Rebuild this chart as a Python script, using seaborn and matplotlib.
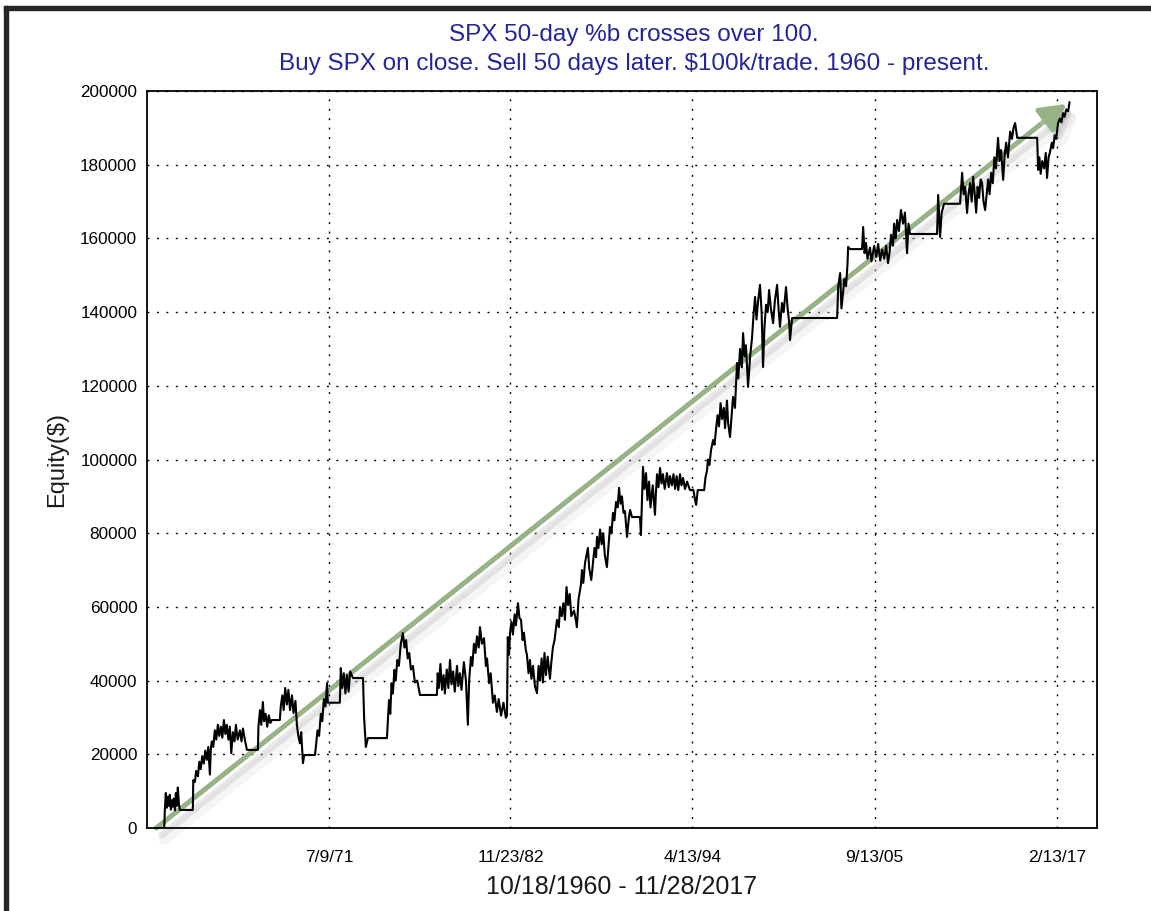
import matplotlib
matplotlib.use('Agg')
import matplotlib.pyplot as plt
import matplotlib.patheffects as pe
from matplotlib.ticker import MultipleLocator, FuncFormatter
from matplotlib.patches import Rectangle
import seaborn as sns
import pandas as pd

# --- Textos ---
title_1 = 'SPX 50-day %b crosses over 100.'
title_2 = 'Buy SPX on close. Sell 50 days later. $100k/trade. 1960 - present.'
x_label = '10/18/1960 - 11/28/2017'
y_label = 'Equity($)'

# --- Ejes (fechas como año decimal) ---
x_ticks = [1971.52, 1982.89, 1994.28, 2005.70, 2017.12]
x_tick_labels = ['7/9/71', '11/23/82', '4/13/94', '9/13/05', '2/13/17']
x_range = [1960.12, 2019.63]
y_range = [0, 200000]

# --- Flecha de tendencia ---
trend_x = [1960.7, 2017.7]
trend_y = [0, 196500]

years_60 = [1960.80, 1961.20, 1961.24, 1961.30, 1961.36, 1961.43, 1961.50, 1961.55,
            1961.62, 1961.68, 1961.74, 1961.80, 1961.87, 1961.93, 1961.99, 1962.05,
            1962.12, 1962.18, 1962.99, 1963.02, 1963.12, 1963.20, 1963.31, 1963.40,
            1963.49, 1963.58, 1963.68, 1963.77, 1963.87, 1963.96, 1964.06, 1964.12,
            1964.18, 1964.27, 1964.37, 1964.46, 1964.56, 1964.65, 1964.75, 1964.84,
            1964.94, 1965.03, 1965.12, 1965.22, 1965.31, 1965.40, 1965.50, 1965.60,
            1965.69, 1965.80, 1965.94, 1966.04, 1966.13, 1966.25, 1966.38, 1967.07,
            1967.10, 1967.20, 1967.28, 1967.38, 1967.45, 1967.55, 1967.65, 1967.75,
            1967.85, 1967.94, 1968.44, 1968.50, 1968.60, 1968.68, 1968.78, 1968.88,
            1968.98, 1969.08, 1969.20, 1969.30, 1969.42, 1969.51, 1969.60, 1969.70,
            1969.78, 1969.89, 1969.97]
equity_60 = [0, 0, 5000, 9500, 5500, 8500, 6000, 9000,
             5000, 7500, 5800, 8000, 4800, 9500, 6000, 11000,
             6500, 4900, 4900, 13000, 12500, 15500, 14000, 18000,
             16000, 19500, 17500, 21000, 18500, 22000, 14500, 21500,
             23500, 22000, 26500, 24000, 28000, 25000, 27500, 24500,
             29300, 25500, 28000, 24000, 27500, 20300, 26000, 23500,
             28000, 24000, 26500, 23500, 27000, 24000, 21200, 21200,
             27500, 32000, 28000, 34200, 29000, 31000, 27500, 30600,
             28500, 29300, 29300, 33000, 36000, 32000, 38000, 33500,
             37500, 32000, 36000, 31200, 34500, 28000, 25000, 23000,
             26000, 17600, 19800]

years_70 = [1970.64, 1970.70, 1970.80, 1970.90, 1971.01, 1971.10, 1971.20, 1971.30,
            1971.40, 1971.45, 1972.20, 1972.26, 1972.35, 1972.45, 1972.55, 1972.65,
            1972.75, 1972.85, 1973.02, 1973.65, 1973.72, 1973.83, 1973.96, 1975.15,
            1975.20, 1975.28, 1975.36, 1975.44, 1975.52, 1975.62, 1975.70, 1975.80,
            1975.90, 1976.02, 1976.15, 1976.25, 1976.35, 1976.45, 1976.55, 1976.65,
            1976.78, 1976.90, 1977.05, 1977.22, 1978.28, 1978.33, 1978.40, 1978.50,
            1978.60, 1978.70, 1978.78, 1978.90, 1979.00, 1979.10, 1979.20, 1979.30,
            1979.40, 1979.54, 1979.62, 1979.72, 1979.82, 1979.97]
equity_70 = [19800, 22000, 26500, 25000, 31000, 29000, 35000, 33000,
             39300, 34000, 34000, 43400, 38000, 42000, 36500, 41500,
             37000, 42500, 40700, 40700, 30000, 22000, 24400, 24400,
             28500, 34700, 31000, 39300, 36500, 42900, 40000, 45600,
             44000, 50000, 52900, 49000, 51000, 46000, 47500, 43000,
             44000, 39500, 40000, 36100, 36100, 42000, 38000, 44500,
             37500, 41500, 36500, 43000, 38000, 45600, 39000, 42500,
             37000, 44000, 38500, 42000, 37500, 45000]

years_80 = [1980.10, 1980.22, 1980.30, 1980.41, 1980.50, 1980.60, 1980.70, 1980.79,
            1980.90, 1980.98, 1981.10, 1981.23, 1981.35, 1981.42, 1981.55, 1981.65,
            1981.79, 1981.90, 1982.04, 1982.15, 1982.30, 1982.45, 1982.60, 1982.67,
            1982.72, 1982.80, 1982.86, 1982.95, 1983.04, 1983.15, 1983.23, 1983.36,
            1983.45, 1983.55, 1983.65, 1983.73, 1983.85, 1983.92, 1984.02, 1984.11,
            1984.20, 1984.30, 1984.42, 1984.55, 1984.65, 1984.74, 1984.84, 1984.92,
            1985.02, 1985.11, 1985.22, 1985.36, 1985.45, 1985.55, 1985.65, 1985.80,
            1985.92, 1985.99, 1986.10, 1986.20, 1986.30, 1986.40, 1986.50, 1986.60,
            1986.70, 1986.87, 1987.00, 1987.05, 1987.15, 1987.30, 1987.37, 1987.45,
            1987.56, 1987.65, 1987.74, 1987.82, 1987.95, 1988.06, 1988.15, 1988.25,
            1988.31, 1988.40, 1988.50, 1988.60, 1988.70, 1988.80, 1988.93, 1989.02,
            1989.12, 1989.22, 1989.31, 1989.40, 1989.50, 1989.60, 1989.69, 1989.78,
            1989.87, 1989.97]
equity_80 = [40000, 28000, 40000, 46400, 44000, 50000, 47500, 52000,
             49000, 54500, 50000, 51500, 44000, 46000, 39300, 42000,
             34000, 36000, 31500, 35000, 30500, 34000, 29900, 30500,
             51800, 47000, 53000, 56000, 52500, 58000, 55000, 61000,
             57000, 56500, 51000, 53000, 48300, 47000, 42000, 45600,
             40500, 44000, 38500, 36600, 44000, 40000, 46000, 39500,
             47500, 41500, 46500, 40500, 45000, 49100, 51000, 56500,
             54500, 60000, 57500, 61000, 56500, 65400, 60500, 63500,
             57500, 59000, 56000, 54500, 62000, 66000, 70000, 66500,
             72000, 74000, 76000, 70500, 67300, 72000, 76000, 73500,
             79000, 76000, 81000, 77000, 80000, 74000, 70800, 76000,
             81700, 80000, 85500, 83500, 88500, 87000, 92300, 88000,
             90000, 85500]

years_90 = [1990.06, 1990.19, 1990.30, 1990.38, 1990.50, 1991.00, 1991.06, 1991.10,
            1991.19, 1991.28, 1991.38, 1991.47, 1991.57, 1991.66, 1991.80, 1991.94,
            1992.00, 1992.07, 1992.16, 1992.26, 1992.35, 1992.44, 1992.55, 1992.69,
            1992.80, 1992.88, 1993.00, 1993.10, 1993.20, 1993.30, 1993.40, 1993.51,
            1993.60, 1993.70, 1993.82, 1993.95, 1994.13, 1994.35, 1994.45, 1994.52,
            1994.62, 1994.76, 1995.02, 1995.10, 1995.20, 1995.26, 1995.35, 1995.45,
            1995.58, 1995.67, 1995.76, 1995.86, 1995.95, 1996.05, 1996.14, 1996.25,
            1996.33, 1996.45, 1996.52, 1996.64, 1996.74, 1996.83, 1996.95, 1997.08,
            1997.16, 1997.27, 1997.38, 1997.46, 1997.56, 1997.64, 1997.77, 1997.90,
            1998.02, 1998.11, 1998.21, 1998.30, 1998.40, 1998.52, 1998.62, 1998.71,
            1998.80, 1998.90, 1999.00, 1999.09, 1999.20, 1999.34, 1999.45, 1999.59,
            1999.68, 1999.77, 1999.90]
equity_90 = [86000, 79000, 84000, 86300, 84400, 84400, 79500, 85000,
             98000, 92000, 96300, 89000, 94000, 87000, 93000, 85000,
             91000, 96000, 92500, 97700, 93500, 96000, 92000, 96300,
             92500, 95500, 93000, 96000, 92000, 95500, 91700, 96000,
             93000, 95000, 92000, 94000, 91700, 91700, 89000, 87700,
             91700, 91700, 91700, 95000, 97000, 100000, 98500, 102500,
             105300, 104000, 108000, 112000, 109000, 115300, 111000, 114000,
             108500, 116000, 110000, 106100, 112000, 117000, 114000, 126200,
             122000, 130000, 125000, 134300, 128000, 131000, 119700, 128000,
             133000, 139000, 144100, 138000, 143000, 147400, 140000, 125100,
             136000, 142000, 140000, 146000, 141000, 137000, 143000, 147400,
             141000, 136000, 142500]

years_00 = [2000.00, 2000.15, 2000.25, 2000.35, 2000.40, 2000.53, 2003.35, 2003.42,
            2003.54, 2003.62, 2003.72, 2003.80, 2003.91, 2004.00, 2004.04, 2004.16,
            2004.91, 2004.98, 2005.07, 2005.16, 2005.25, 2005.41, 2005.50, 2005.67,
            2005.80, 2005.92, 2006.05, 2006.17, 2006.30, 2006.42, 2006.54, 2006.63,
            2006.73, 2006.85, 2006.92, 2007.02, 2007.11, 2007.22, 2007.35, 2007.48,
            2007.60, 2007.73, 2007.82, 2007.92, 2009.61, 2009.68, 2009.74, 2009.80,
            2009.90]
equity_00 = [140000, 146800, 141000, 137000, 132400, 138400, 138400, 147000,
             150600, 141000, 145200, 149000, 147000, 153000, 157700, 157100,
             157100, 163100, 156000, 158800, 154500, 157500, 153800, 158000,
             155000, 158500, 154000, 157000, 154500, 158000, 153300, 156000,
             161000, 158000, 164000, 160000, 165000, 162000, 167700, 164000,
             167000, 156000, 164000, 161200, 161200, 171800, 166000, 160400,
             167000]

years_10 = [2010.05, 2011.05, 2011.18, 2011.27, 2011.37, 2011.49, 2011.58, 2011.68,
            2011.78, 2011.87, 2011.97, 2012.06, 2012.15, 2012.24, 2012.34, 2012.43,
            2012.52, 2012.62, 2012.72, 2012.81, 2012.90, 2013.00, 2013.10, 2013.20,
            2013.30, 2013.43, 2013.52, 2013.62, 2013.75, 2013.85, 2013.94, 2014.05,
            2014.19, 2014.30, 2014.40, 2014.50, 2014.63, 2015.88, 2015.94, 2016.02,
            2016.10, 2016.20, 2016.32, 2016.42, 2016.50, 2016.60, 2016.69, 2016.80,
            2016.88, 2016.98, 2017.07, 2017.19, 2017.30, 2017.40, 2017.51, 2017.60,
            2017.70, 2017.82, 2017.91]
equity_10 = [169400, 169400, 177800, 172000, 174000, 166900, 172000, 175000,
             170000, 176700, 172000, 167000, 174000, 171000, 176000, 175000,
             170000, 167700, 172000, 176000, 172000, 177800, 175000, 182000,
             179000, 187300, 181000, 184000, 175900, 183000, 186000, 182000,
             189000, 187000, 190000, 191300, 187300, 187300, 178600, 182000,
             177500, 181000, 179000, 183200, 176400, 182100, 183500, 186000,
             184500, 188000, 187000, 191300, 192500, 191500, 194000, 193000,
             195000, 194500, 197000]

df = pd.DataFrame({
    'year': years_60 + years_70 + years_80 + years_90 + years_00 + years_10,
    'equity': equity_60 + equity_70 + equity_80 + equity_90 + equity_00 + equity_10,
})

# --- Grafico ---
sns.set_style('white')
plt.rcParams['font.family'] = ['Liberation Sans', 'DejaVu Sans']

fig = plt.figure(figsize=(11.51, 9.11), dpi=100)
ax = fig.add_axes([0.1277, 0.0911, 0.8254, 0.8090])

sns.lineplot(data=df, x='year', y='equity', ax=ax, color='black', lw=1.5,
             sort=False, estimator=None, zorder=3)

# flecha verde con sombra suave
ax.annotate('', xy=(trend_x[1], trend_y[1]), xytext=(trend_x[0], trend_y[0]),
            arrowprops=dict(arrowstyle='-|>,head_length=0.85,head_width=0.5',
                            mutation_scale=18, color='#97b386', lw=3.6,
                            shrinkA=0, shrinkB=0,
                            path_effects=[pe.SimpleLineShadow(offset=(6, -8), shadow_color='0.85', alpha=0.25, linewidth=8),
                                          pe.SimpleLineShadow(offset=(4, -5), shadow_color='0.65', alpha=0.25, linewidth=5),
                                          pe.SimplePatchShadow(offset=(4, -5), shadow_rgbFace='0.65', alpha=0.25),
                                          pe.Normal()]),
            zorder=2, annotation_clip=False)

ax.set_xlim(x_range)
ax.set_ylim(y_range)
ax.set_xticks(x_ticks, x_tick_labels)
ax.yaxis.set_major_locator(MultipleLocator(20000))
ax.yaxis.set_minor_locator(MultipleLocator(10000))
ax.yaxis.set_major_formatter(FuncFormatter(lambda v, p: f'{int(v)}'))

ax.tick_params(axis='x', direction='inout', length=10, width=1.1, labelsize=12.5, pad=11, labelcolor='#1a1a1a')
ax.tick_params(axis='y', which='major', direction='out', length=5, width=1.2, labelsize=12.3, pad=2, labelcolor='#1a1a1a')
ax.tick_params(axis='y', which='minor', direction='inout', length=8, width=1.2)
ax.tick_params(colors='black', which='both')

ax.grid(True, which='major', color='black', lw=1.0, linestyle=(0, (1.4, 5.4)))
for s in ax.spines.values():
    s.set_linewidth(1.3)
    s.set_color('black')

ax.set_xlabel(x_label, fontsize=18, color='#1a1a1a')
ax.xaxis.set_label_coords(0.5, -0.064)
ax.set_ylabel(y_label, fontsize=17, color='#1a1a1a')
ax.yaxis.set_label_coords(-0.083, 0.5)

fig.text(0.551, 1 - 35 / 911, title_1, ha='center', va='center', fontsize=17.5, color='#25259a')
fig.text(0.551, 1 - 64 / 911, title_2, ha='center', va='center', fontsize=17.5, color='#25259a')

# marco oscuro de la ventana (arriba e izquierda)
fig.patches.append(Rectangle((4 / 1151, 0), 4 / 1151, 1 - 6 / 911, transform=fig.transFigure, color='#262626'))
fig.patches.append(Rectangle((4 / 1151, 1 - 10 / 911), 1 - 4 / 1151, 4 / 911, transform=fig.transFigure, color='#262626'))

fig.savefig('out.png', dpi=100)
plt.close()
